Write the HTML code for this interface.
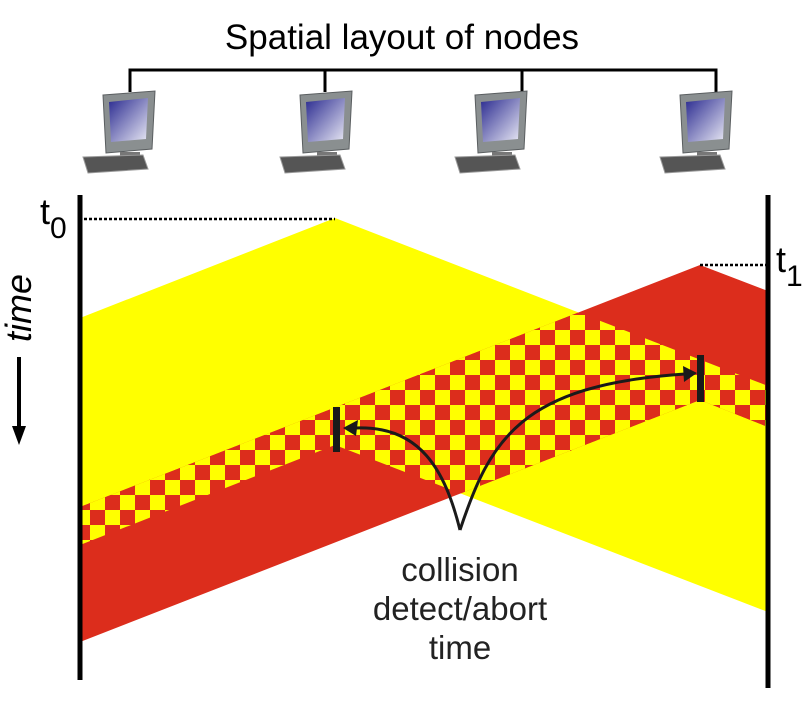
<!DOCTYPE html>
<html><head><style>body{margin:0;background:#fff}svg{display:block}</style></head><body>
<svg width="811" height="702" viewBox="0 0 811 702" xmlns="http://www.w3.org/2000/svg">
<defs>
<pattern id="chk" x="0" y="0" width="30" height="30" patternUnits="userSpaceOnUse">
<rect width="30" height="30" fill="#ffff00"/>
<rect x="0" y="0" width="15" height="15" fill="#dc2d1c"/>
<rect x="15" y="15" width="15" height="15" fill="#dc2d1c"/>
</pattern>
<clipPath id="redclip"><polygon points="700,265 768,291 768,427 700,400 80,642 80,507"/></clipPath>
<linearGradient id="scr" x1="0" y1="0" x2="1" y2="1"><stop offset="0" stop-color="#2a2a90"/><stop offset="1" stop-color="#e8e8f4"/></linearGradient>
<g id="pc">
<polygon points="-25,-2 27,-6 24,52 -22,56" fill="#8a8f90" stroke="#5a5e60"/>
<polygon points="-19,5 20,1 18,42 -17,45" fill="url(#scr)"/>
<rect x="-8" y="55" width="20" height="6" fill="#777"/>
<polygon points="-45,60 15,58 20,72 -40,76" fill="#555" stroke="#999"/>
</g>
</defs>
<text x="402" y="49" font-family="Liberation Sans, sans-serif" font-size="35" text-anchor="middle">Spatial layout of nodes</text>
<path d="M130,92 V70 H716 V92 M325,70 V92 M522,70 V92" stroke="#000" stroke-width="3" fill="none"/>
<use href="#pc" x="128" y="97"/>
<use href="#pc" x="325" y="97"/>
<use href="#pc" x="500" y="97"/>
<use href="#pc" x="705" y="97"/>
<polygon points="335,218 768,386 768,612 335,445 80,545 80,318" fill="#ffff00"/>
<polygon points="700,265 768,291 768,427 700,400 80,642 80,507" fill="#dc2d1c"/>
<polygon points="335,218 768,386 768,612 335,445 80,545 80,318" fill="url(#chk)" clip-path="url(#redclip)"/>
<line x1="80" y1="195" x2="80" y2="680" stroke="#000" stroke-width="5"/>
<line x1="768" y1="195" x2="768" y2="688" stroke="#000" stroke-width="5"/>
<line x1="84" y1="219" x2="335" y2="219" stroke="#000" stroke-width="2.5" stroke-dasharray="3,2"/>
<line x1="700" y1="265" x2="766" y2="265" stroke="#000" stroke-width="2.5" stroke-dasharray="3,2"/>
<text x="40" y="224" font-family="Liberation Sans, sans-serif" font-size="36">t<tspan font-size="30" dy="14">0</tspan></text>
<text x="776" y="272" font-family="Liberation Sans, sans-serif" font-size="36">t<tspan font-size="30" dy="14">1</tspan></text>
<text transform="translate(31,308) rotate(-90)" font-family="Liberation Sans, sans-serif" font-size="36" font-style="italic" text-anchor="middle">time</text>
<line x1="19" y1="357" x2="19" y2="430" stroke="#000" stroke-width="4"/>
<polygon points="12,426 26,426 19,445" fill="#000"/>
<rect x="333" y="407" width="7" height="45" fill="#1a1a1a"/>
<rect x="697" y="355" width="7" height="47" fill="#1a1a1a"/>
<path d="M460,530 C445,470 420,425 355,428" stroke="#1a1a1a" stroke-width="3" fill="none"/>
<polygon points="343,428 358,420 356,436" fill="#1a1a1a"/>
<path d="M460,530 C490,440 520,385 685,374" stroke="#1a1a1a" stroke-width="3" fill="none"/>
<polygon points="697,373 683,366 684,382" fill="#1a1a1a"/>
<g font-family="Liberation Sans, sans-serif" font-size="33" text-anchor="middle" fill="#222">
<text x="460" y="581">collision</text>
<text x="460" y="620">detect/abort</text>
<text x="460" y="659">time</text>
</g>
</svg>
</body></html>
